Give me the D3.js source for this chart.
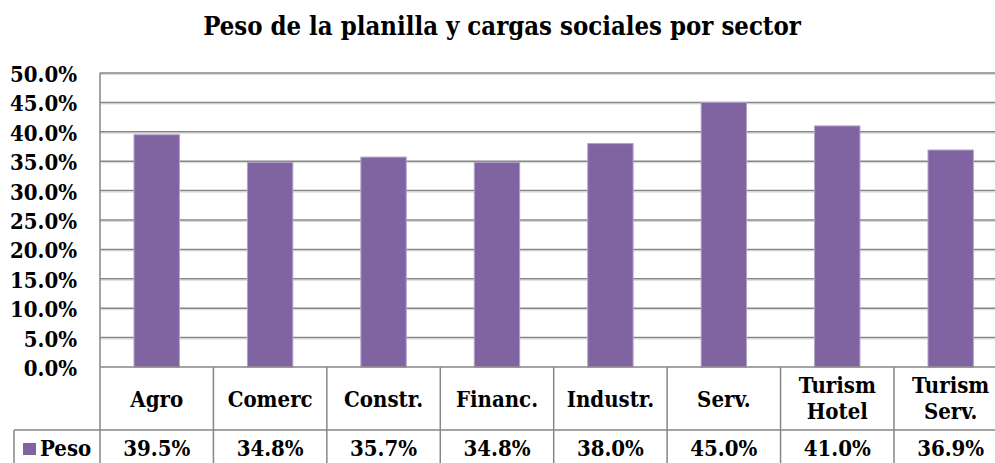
<!DOCTYPE html>
<html lang="es">
<head>
    <meta charset="UTF-8">
    <title>Peso de la planilla y cargas sociales por sector</title>
    <script src="https://d3js.org/d3.v7.min.js"></script>
    <style>
        body { margin: 0; background: #fff; }
        text { font-family: "DejaVu Serif Condensed", "DejaVu Serif", serif; font-weight: bold; fill: #000; }
    </style>
</head>
<body>
    <script>
        var width = 995;
        var height = 463;

        // data
        var sectores = ["Agro", "Comerc", "Constr.", "Financ.", "Industr.", "Serv.", "Turism Hotel", "Turism Serv."];
        var etiquetas = [["Agro"], ["Comerc"], ["Constr."], ["Financ."], ["Industr."], ["Serv."], ["Turism", "Hotel"], ["Turism", "Serv."]];
        var peso = [39.5, 34.8, 35.7, 34.8, 38.0, 45.0, 41.0, 36.9];
        var ticks = [0, 5, 10, 15, 20, 25, 30, 35, 40, 45, 50];
        var serie = "Peso";

        var plotLeft = 100, plotRight = 1007.4, plotTop = 73, plotBottom = 367;
        var row1 = 430, row2 = 493;
        var purple = "#8064a2";
        var grid = "#868686";

        var svg = d3.select("body").append("svg")
            .attr("width", width)
            .attr("height", height)

        var x = d3.scaleBand().domain(sectores).range([plotLeft, plotRight]).paddingInner(0.6).paddingOuter(0.3)
        var y = d3.scaleLinear().domain([0, 50]).range([plotBottom, plotTop])

        // title
        svg.append("text")
            .attr("x", 502)
            .attr("y", 35)
            .attr("text-anchor", "middle")
            .style("font-size", "25.5px")
            .text("Peso de la planilla y cargas sociales por sector")

        // gridlines
        var g = svg.append("g")
        g.selectAll("line.shadow")
            .data(ticks.slice(1))
            .join("line")
            .attr("class", "shadow")
            .attr("x1", plotLeft).attr("x2", plotRight)
            .attr("y1", d => y(d) + 1.5).attr("y2", d => y(d) + 1.5)
            .attr("stroke", "#dadada").attr("stroke-width", 1)
        g.selectAll("line.grid")
            .data(ticks.slice(1))
            .join("line")
            .attr("class", "grid")
            .attr("x1", plotLeft).attr("x2", plotRight)
            .attr("y1", d => y(d)).attr("y2", d => y(d))
            .attr("stroke", grid).attr("stroke-width", 1.5)

        // y labels
        svg.append("g").selectAll("text")
            .data(ticks)
            .join("text")
            .attr("x", 77)
            .attr("y", d => y(d) + 9)
            .attr("text-anchor", "end")
            .style("font-size", "22px")
            .text(d => d.toFixed(1) + "%")

        // bars
        svg.append("g").selectAll("rect")
            .data(peso)
            .join("rect")
            .attr("x", (d, i) => x(sectores[i]))
            .attr("y", d => y(d))
            .attr("width", x.bandwidth())
            .attr("height", d => y(0) - y(d))
            .attr("fill", purple)
            .attr("stroke", "#b2a1c7")
            .attr("stroke-width", 1)

        // data table
        var t = svg.append("g")
        var step = x.step()
        var cols = sectores.map((s, i) => plotLeft + i * step)
        cols.push(plotRight)

        t.selectAll("line.v")
            .data(cols)
            .join("line")
            .attr("class", "v")
            .attr("x1", d => d).attr("x2", d => d)
            .attr("y1", (d, i) => i == 0 ? plotTop : plotBottom).attr("y2", row2)
            .attr("stroke", grid).attr("stroke-width", 1.5)
        t.append("line")
            .attr("x1", plotLeft).attr("x2", plotRight)
            .attr("y1", plotBottom).attr("y2", plotBottom)
            .attr("stroke", grid).attr("stroke-width", 1.5)
        t.append("line")
            .attr("x1", 14).attr("x2", plotRight)
            .attr("y1", row1).attr("y2", row1)
            .attr("stroke", grid).attr("stroke-width", 1.5)
        t.append("line")
            .attr("x1", 14).attr("x2", 14)
            .attr("y1", row1).attr("y2", row2)
            .attr("stroke", grid).attr("stroke-width", 1.5)

        // category labels
        t.selectAll("text.cat")
            .data(etiquetas)
            .join("text")
            .attr("class", "cat")
            .attr("x", (d, i) => x(sectores[i]) + x.bandwidth() / 2)
            .attr("y", d => d.length == 1 ? 407 : 393)
            .attr("text-anchor", "middle")
            .style("font-size", "22px")
            .selectAll("tspan")
            .data(d => d)
            .join("tspan")
            .attr("x", function () { return this.parentNode.getAttribute("x") })
            .attr("dy", (d, i) => i == 0 ? 0 : 26)
            .text(d => d)

        // values row
        t.selectAll("text.val")
            .data(peso)
            .join("text")
            .attr("class", "val")
            .attr("x", (d, i) => x(sectores[i]) + x.bandwidth() / 2)
            .attr("y", 456)
            .attr("text-anchor", "middle")
            .style("font-size", "22px")
            .text(d => d.toFixed(1) + "%")

        // legend key
        t.append("rect")
            .attr("x", 23).attr("y", 443)
            .attr("width", 13).attr("height", 12)
            .attr("fill", purple)
        t.append("text")
            .attr("x", 40).attr("y", 456)
            .style("font-size", "22px")
            .text(serie)
    </script>
</body>
</html>
